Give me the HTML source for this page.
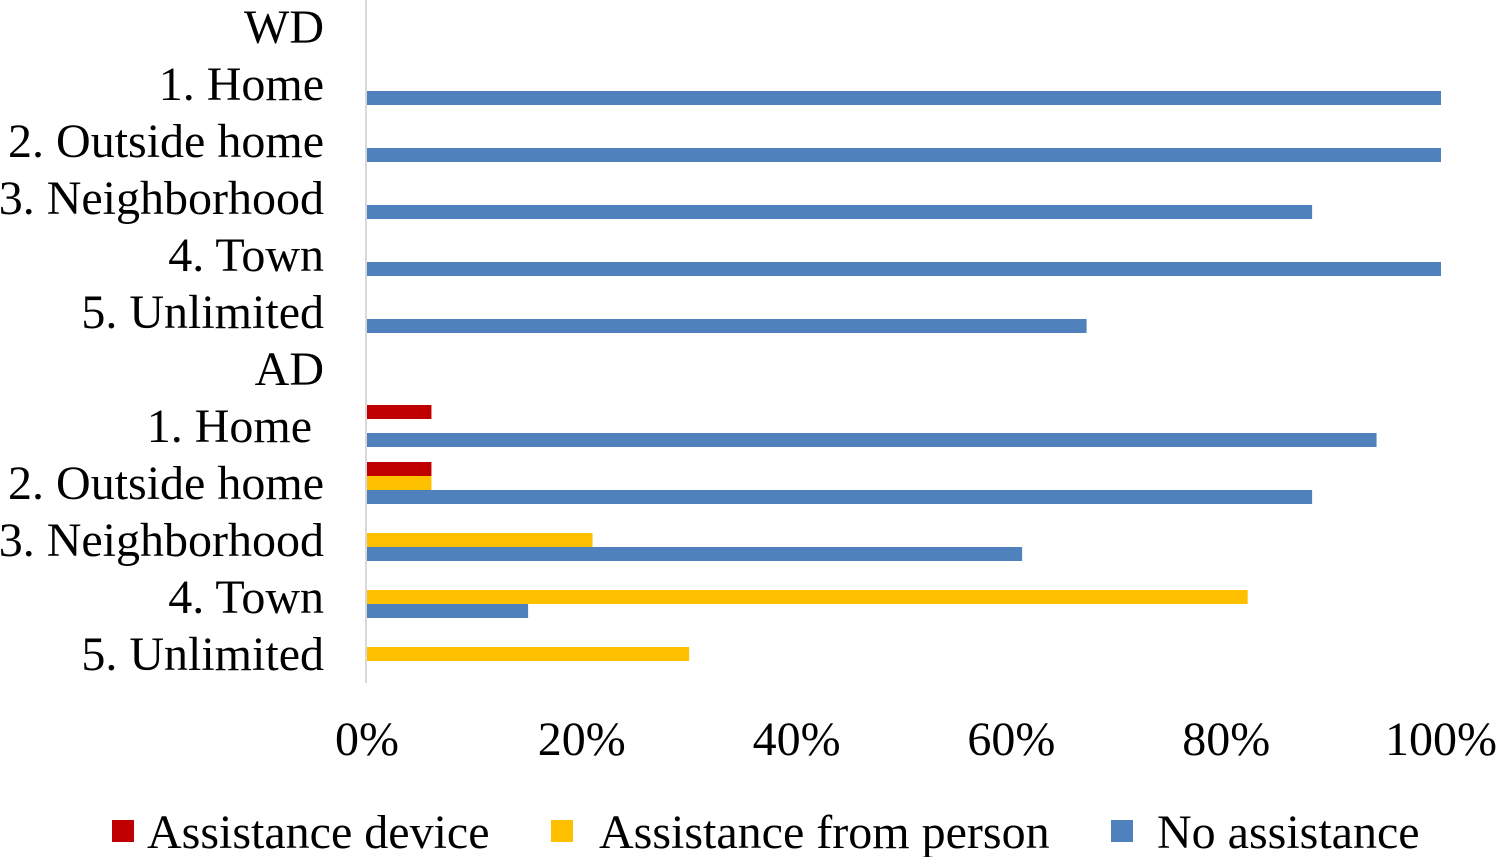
<!DOCTYPE html>
<html><head><meta charset="utf-8"><style>
html,body{margin:0;padding:0;background:#fff;width:1496px;height:857px;overflow:hidden}
svg text{font-family:"Liberation Serif",serif;fill:#000}
</style></head><body>
<svg id="chart" width="1496" height="857">
<line x1="366" y1="0" x2="366" y2="683" stroke="#d9d9d9" stroke-width="2"/>
<g id="bars"></g><g id="labels"></g><g id="ticks"></g>
<g>
<rect x="112" y="820" width="22" height="22" fill="#c00000"/>
<text x="147" y="848" font-size="48">Assistance device</text>
<rect x="551" y="820" width="22" height="22" fill="#ffc000"/>
<text x="599" y="848" font-size="48">Assistance from person</text>
<rect x="1111" y="820" width="22" height="22" fill="#4f81bd"/>
<text x="1157" y="848" font-size="48">No assistance</text>
</g>
</svg>
<script>
const categories=["WD","1. Home","2. Outside home","3. Neighborhood","4. Town","5. Unlimited","AD","1. Home ","2. Outside home","3. Neighborhood","4. Town","5. Unlimited"];
const deviceVals=[0,0,0,0,0,0,0,6,6,0,0,0];
const personVals=[0,0,0,0,0,0,0,0,6,21,82,30];
const noneVals=[0,100,100,88,100,67,0,94,88,61,15,0];
const tickVals=[0,20,40,60,80,100];
const tickLabels=["0%","20%","40%","60%","80%","100%"];
const NS="http://www.w3.org/2000/svg";
const x=v=>367+v/100*1074;
const yc=i=>28+i*57;
const bars=document.getElementById('bars'),labels=document.getElementById('labels'),ticks=document.getElementById('ticks');
function bar(v,y,color,name){
 if(v<=0)return;
 const r=document.createElementNS(NS,'rect');
 r.setAttribute('x',x(0));r.setAttribute('y',y);r.setAttribute('width',x(v)-x(0));r.setAttribute('height',14);r.setAttribute('fill',color);
 
 
 bars.appendChild(r);
}
categories.forEach((c,i)=>{
 const y=yc(i);
 bar(deviceVals[i],y-22,'#c00000','bar-device-'+i);
 bar(personVals[i],y-8,'#ffc000','bar-person-'+i);
 bar(noneVals[i],y+6,'#4f81bd','bar-none-'+i);
 const t=document.createElementNS(NS,'text');
 t.setAttribute('x',324);t.setAttribute('y',y+15);t.setAttribute('font-size','48');t.setAttribute('text-anchor','end');
 t.style.whiteSpace='pre';
 t.textContent=c;
 
 
 labels.appendChild(t);
});
tickVals.forEach((v,i)=>{
 const t=document.createElementNS(NS,'text');
 t.setAttribute('x',x(v));t.setAttribute('y',755);t.setAttribute('font-size','48');t.setAttribute('text-anchor','middle');
 t.textContent=tickLabels[i];
 
 
 ticks.appendChild(t);
});
</script>
</body></html>
